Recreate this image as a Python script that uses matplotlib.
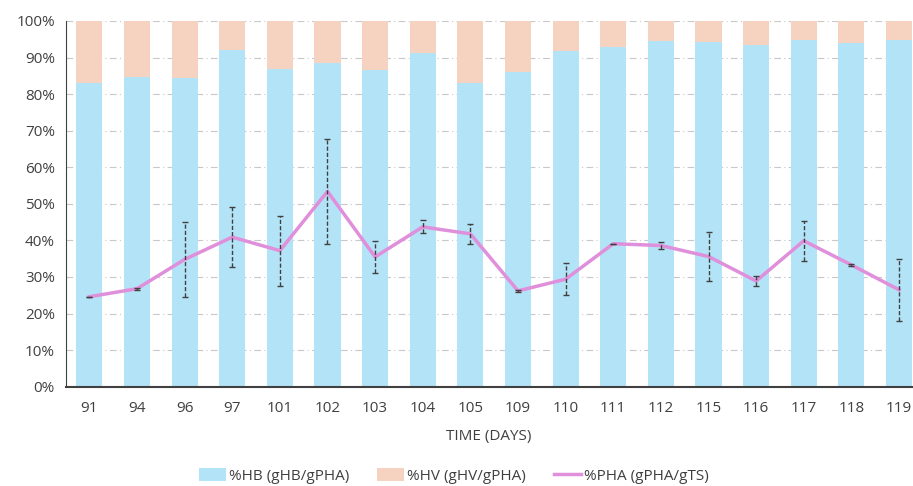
import matplotlib.pyplot as plt
import numpy as np

plt.rcParams['font.family'] = ['Open Sans', 'DejaVu Sans']

days = ['91', '94', '96', '97', '101', '102', '103', '104', '105',
        '109', '110', '111', '112', '115', '116', '117', '118', '119']
hb = [83.0, 84.6, 84.4, 92.1, 86.9, 88.6, 86.6, 91.2, 83.1,
      86.1, 91.7, 93.0, 94.4, 94.2, 93.5, 94.8, 93.9, 94.8]
hv = [100 - v for v in hb]
pha = [24.6, 26.8, 34.8, 40.9, 37.2, 53.4, 35.5, 43.7, 41.8,
       26.2, 29.4, 39.1, 38.6, 35.6, 28.9, 39.9, 33.3, 26.5]
pha_err = [0.0, 0.3, 10.3, 8.2, 9.6, 14.3, 4.35, 1.8, 2.8,
           0.3, 4.3, 0.0, 1.0, 6.75, 1.3, 5.5, 0.3, 8.4]

fig = plt.figure(figsize=(9.13, 4.86), dpi=100)
ax = fig.add_axes([0.0723, 0.2043, 0.927, 0.7525])

x = np.arange(len(days))
b1 = ax.bar(x, hb, width=0.55, color='#B3E3F6', label='%HB (gHB/gPHA)', zorder=2)
b2 = ax.bar(x, hv, width=0.55, bottom=hb, color='#F6D3C0', label='%HV (gHV/gPHA)', zorder=2)
l1, = ax.plot(x, pha, color='#E08FDB', linewidth=2.5, label='%PHA (gPHA/gTS)', zorder=3)
eb = ax.errorbar(x, pha, yerr=pha_err, fmt='none', ecolor='#404040',
                 elinewidth=1, capsize=2.5, capthick=1, zorder=4)
eb[2][0].set_linestyle((0, (3, 1.5)))

ax.set_xlim(-0.49, 17.28)
ax.set_ylim(0, 100)
ax.set_yticks(np.arange(0, 101, 10))
ax.set_yticklabels(['%d%%' % v for v in range(0, 101, 10)])
ax.set_xticks(x)
ax.set_xticklabels(days)
ax.grid(axis='y', color='#C8C8C8', linestyle=(0, (6, 3, 1, 3)), linewidth=0.8, zorder=0)
ax.set_axisbelow(True)

for s in ['top', 'right']:
    ax.spines[s].set_visible(False)
ax.spines['left'].set_color('#404040')
ax.spines['bottom'].set_color('#404040')
ax.spines['bottom'].set_linewidth(1.5)
ax.tick_params(axis='both', length=0, labelsize=11, colors='#404040', pad=8)
ax.tick_params(axis='x', pad=10)

ax.set_xlabel('TIME (DAYS)', fontsize=11, color='#404040', labelpad=10)

fig.legend(handles=[b1, b2, l1], loc='center', bbox_to_anchor=(0.497, 0.02), ncol=3,
           frameon=False, fontsize=11, handlelength=1.8, handleheight=0.9,
           columnspacing=1.8, labelcolor='#404040', handletextpad=0.2)

plt.savefig('out.png')
